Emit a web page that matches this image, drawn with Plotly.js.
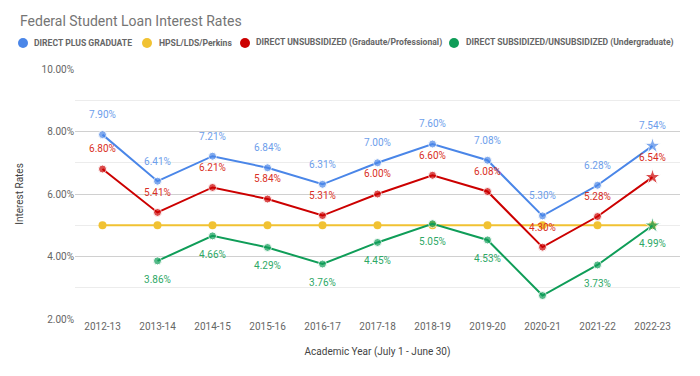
<!DOCTYPE html>
<html><head><meta charset="utf-8">
<script src="https://cdn.plot.ly/plotly-3.0.1.min.js"></script>
<style>html,body{margin:0;padding:0;background:#fff}</style>
</head><body><div id="chart" style="width:700px;height:376px"></div>
<script>
const years = ['2012-13','2013-14','2014-15','2015-16','2016-17','2017-18','2018-19','2019-20','2020-21','2021-22','2022-23'];
const plusGrad = [7.90,6.41,7.21,6.84,6.31,7.00,7.60,7.08,5.30,6.28,7.54];
const perkins = [5.00,5.00,5.00,5.00,5.00,5.00,5.00,5.00,5.00,5.00,5.00];
const unsubGrad = [6.80,5.41,6.21,5.84,5.31,6.00,6.60,6.08,4.30,5.28,6.54];
const undergrad = [null,3.86,4.66,4.29,3.76,4.45,5.05,4.53,2.75,3.73,4.99];
const undergradLabels = ['','3.86%','4.66%','4.29%','3.76%','4.45%','5.05%','4.53%','','3.73%','4.99%'];
const names = ['DIRECT PLUS GRADUATE','HPSL/LDS/Perkins','DIRECT UNSUBSIDIZED (Gradaute/Professional)','DIRECT SUBSIDIZED/UNSUBSIDIZED (Undergraduate)'];

const colors = ['#4a86e8','#f1c232','#cc0000','#0f9d58'];
const labelColors = ['#6d9eeb','#f1c232','#d93025','#2ea866'];
const syms = years.map((y,i)=> i===years.length-1 ? 'star' : 'circle');
const sizes = years.map((y,i)=> i===years.length-1 ? 12 : 8);
const fmt = v => v==null ? '' : v.toFixed(2)+'%';

function line(vals, idx){
  return {x: years, y: vals, type:'scatter', mode:'lines+markers',
    name: names[idx], showlegend:false, connectgaps:false,
    line:{color:colors[idx], width:2},
    marker:{color:colors[idx], size: idx===1 ? 8 : sizes, symbol: idx===1 ? 'circle' : syms}};
}
function labels(vals, idx, text, pos){
  return {x: years, y: vals, type:'scatter', mode:'markers+text', showlegend:false,
    marker:{size:21, color:'rgba(0,0,0,0)'},
    text: text, textposition: pos, cliponaxis:false,
    textfont:{family:'Roboto', size:10, color:labelColors[idx]}};
}
const data = [
  line(perkins,1),
  line(undergrad,3),
  line(unsubGrad,2),
  line(plusGrad,0),
  labels(undergrad,3,undergradLabels,'bottom center'),
  labels(unsubGrad,2,unsubGrad.map(fmt),'top center'),
  labels(plusGrad,0,plusGrad.map(fmt),'top center')
];

// legend drawn as annotations + circle shapes (pixel positions converted to paper coords)
const L = 75, W = 605, B = 319, H = 250;
const px = v => (v - L) / W, py = v => (B - v) / H;
const legCircleX = [23, 147, 245, 454];
const legTextX = [32, 157, 254, 464];
const legY = 43;
const annotations = names.map((n,i)=>({text:n, xref:'paper', yref:'paper', x:px(legTextX[i]), y:py(legY),
  xanchor:'left', yanchor:'middle', showarrow:false,
  font:{family:'Roboto', size:8.6, color:'#666', weight:'bold'}}));
const shapes = names.map((n,i)=>({type:'circle', xref:'paper', yref:'paper',
  x0:px(legCircleX[i]-5), x1:px(legCircleX[i]+5), y0:py(legY+5), y1:py(legY-5),
  fillcolor:colors[i], line:{width:0}}));

const layout = {
  width:700, height:376,
  margin:{l:75, r:20, t:69, b:57},
  paper_bgcolor:'#fff', plot_bgcolor:'#fff',
  font:{family:'Roboto', color:'#666'},
  title:{text:'Federal Student Loan Interest Rates', x:20/700, xanchor:'left', y:1-21/376, yanchor:'middle',
    font:{family:'Roboto', size:14, color:'#757575'}},
  showlegend:false,
  annotations: annotations,
  shapes: shapes,
  xaxis:{type:'category', range:[-0.5, years.length-0.5], autorange:false,
    showgrid:false, zeroline:false, showline:false, ticks:'',
    tickfont:{family:'Roboto', size:10, color:'#666'},
    title:{text:'Academic Year (July 1 - June 30)', standoff:16, font:{family:'Roboto', size:10, color:'#444'}}},
  yaxis:{range:[2,10], autorange:false, dtick:2, tick0:2, ticksuffix:'%', tickformat:'.2f', showgrid:true,
    gridcolor:'#d0d0d0', gridwidth:1, zeroline:false, showline:false, ticks:'',
    tickfont:{family:'Roboto', size:10, color:'#666'},
    minor:{dtick:1, tick0:2, showgrid:true, gridcolor:'#ececec', gridwidth:1},
    title:{text:'Interest Rates', standoff:16, font:{family:'Roboto', size:10, color:'#444'}}}
};
Plotly.newPlot('chart', data, layout, {displayModeBar:false, staticPlot:true});
</script></body></html>
